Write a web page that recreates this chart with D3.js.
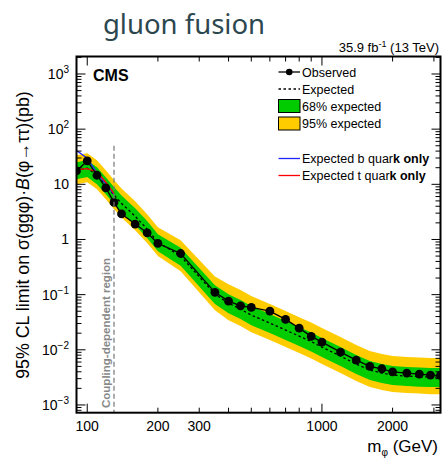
<!DOCTYPE html>
<html><head><meta charset="utf-8">
<script src="https://cdn.jsdelivr.net/npm/d3@7"></script>
<style>
html,body{margin:0;padding:0;background:#fff;}
svg text{font-family:"Liberation Sans",Arial,Helvetica,sans-serif;}
</style></head>
<body>
<svg id="chart" width="442" height="460"></svg>
<script>
// ---- data ----
const masses   = [90,100,110,120,130,140,160,180,200,250,350,400,450,500,600,700,800,900,1000,1200,1400,1600,1800,2000,2300,2600,2900,3200];
const observed = [17.5,26.5,14.6,8.6,4.7,2.9,1.9,1.32,0.85,0.557,0.11,0.0762,0.0627,0.0586,0.0502,0.0356,0.0247,0.0175,0.0138,0.00908,0.0065,0.0050,0.00453,0.00399,0.00378,0.00363,0.00348,0.00344];
const expected = [18.0,19.6,14.6,9.6,6.4,4.5,2.64,1.54,0.89,0.50,0.102,0.070,0.0546,0.0425,0.0305,0.0228,0.0177,0.0141,0.0112,0.00769,0.00551,0.00429,0.00378,0.00348,0.00334,0.00327,0.00320,0.00320];
const plus2    = [33.7,36.7,27.3,18.0,12.0,8.4,4.94,2.88,1.66,0.97,0.214,0.155,0.121,0.094,0.0674,0.0504,0.0391,0.0312,0.0248,0.0170,0.01218,0.00948,0.00835,0.00769,0.00738,0.00723,0.00707,0.00707];
const plus1    = [25.2,27.4,20.4,13.4,8.96,6.3,3.70,2.16,1.25,0.71,0.148,0.102,0.0797,0.062,0.0445,0.0333,0.0258,0.0206,0.01635,0.01123,0.00804,0.00626,0.00552,0.00508,0.00488,0.00477,0.00467,0.00467];
const minus1   = [12.4,13.5,10.0,6.6,4.4,3.09,1.81,1.06,0.61,0.335,0.0678,0.046,0.036,0.028,0.0201,0.0150,0.01166,0.00929,0.00738,0.00507,0.00363,0.00283,0.00249,0.00229,0.0022,0.00215,0.00211,0.00211];
const minus2   = [10.0,10.9,8.1,5.35,3.56,2.5,1.47,0.86,0.50,0.265,0.052,0.0344,0.0269,0.0209,0.0150,0.0112,0.00871,0.00694,0.00551,0.00378,0.00271,0.00211,0.00186,0.00171,0.00164,0.00161,0.00157,0.00157];
const lowMasses = [90,100,110,120,130];
const expBOnly  = [41,29.7,15.9,10.1,6.6];
const expTOnly  = [18.5,19.3,16.8,10.9,6.8];
const yDecades  = [-3,-2,-1,0,1,2,3];
const xLabels   = [100,200,300,1000,2000];
const legendLabels = ["Observed","Expected","68% expected","95% expected","Expected b quark only","Expected t quark only"];

// ---- layout ----
const L=76.5, R=440.5, T=56.5, B=412.7;
const svg=d3.select("#chart");
const x=d3.scaleLog().domain([90,3200]).range([L,R]);
const y=d3.scaleLog().domain([7.24e-4,2075]).range([B,T]);

const GREEN="#00cc00", YELLOW="#ffcc00";

// title
svg.append("text").attr("x",184).attr("y",34).attr("text-anchor","middle")
  .style("font-family","'Noto Sans','Open Sans',sans-serif").style("font-size","27.5px").attr("fill","#2d474f")
  .text("gluon fusion");
// lumi
const lumi=svg.append("text").attr("x",439).attr("y",52).attr("text-anchor","end").style("font-size","13px");
lumi.append("tspan").text("35.9 fb");
lumi.append("tspan").attr("dy",-5).style("font-size","9px").text("-1");
lumi.append("tspan").attr("dy",5).text(" (13 TeV)");

const g=svg.append("g");
const idx=d3.range(masses.length);
svg.append("clipPath").attr("id","clip").append("rect").attr("x",L).attr("y",T).attr("width",R-L).attr("height",B-T);
const plot=g.append("g").attr("clip-path","url(#clip)");

const area=(lo,hi)=>d3.area().x(i=>x(masses[i])).y0(i=>y(lo[i])).y1(i=>y(hi[i]));
plot.append("path").datum(idx).attr("d",area(minus2,plus2)).attr("fill",YELLOW);
plot.append("path").datum(idx).attr("d",area(minus1,plus1)).attr("fill",GREEN);

const line=(arr,ms)=>d3.line().x(i=>x(ms[i])).y(i=>y(arr[i]));
plot.append("path").datum(idx).attr("d",line(expected,masses)).attr("fill","none")
  .attr("stroke","#000").attr("stroke-width",1.3).attr("stroke-dasharray","2.5,2.5");
const lidx=d3.range(lowMasses.length);
plot.append("path").datum(lidx).attr("d",line(expBOnly,lowMasses)).attr("fill","none").attr("stroke","#2222ff").attr("stroke-width",1.3);
plot.append("path").datum(lidx).attr("d",line(expTOnly,lowMasses)).attr("fill","none").attr("stroke","#ff0000").attr("stroke-width",1.3);
plot.append("path").datum(idx).attr("d",line(observed,masses)).attr("fill","none").attr("stroke","#000").attr("stroke-width",1.3);
plot.selectAll("circle.obs").data(idx).enter().append("circle").attr("class","obs")
  .attr("cx",i=>x(masses[i])).attr("cy",i=>y(observed[i])).attr("r",4.4).attr("fill","#000");

// coupling-dependent line
g.append("line").attr("x1",x(130)).attr("x2",x(130)).attr("y1",y(50)).attr("y2",B)
  .attr("stroke","#777").attr("stroke-width",1.2).attr("stroke-dasharray","5,3");
g.append("text").attr("transform",`translate(${x(130)-4},408) rotate(-90)`)
  .style("font-size","11.5px").style("font-weight","bold").attr("fill","#888").text("Coupling-dependent region");

// frame
g.append("rect").attr("x",L).attr("y",T).attr("width",R-L).attr("height",B-T).attr("fill","none").attr("stroke","#000").attr("stroke-width",2);

// y ticks
const ticks=g.append("g").attr("stroke","#000").attr("stroke-width",1);
for(let e=-4;e<=3;e++){
  for(let k=1;k<10;k++){
    const v=k*Math.pow(10,e);
    const yy=y(v);
    if(yy<T||yy>B) continue;
    const len=k===1?9:5;
    ticks.append("line").attr("x1",L).attr("x2",L+len).attr("y1",yy).attr("y2",yy);
    ticks.append("line").attr("x1",R-len).attr("x2",R).attr("y1",yy).attr("y2",yy);
  }
}
// x ticks
const xt=[90,100,200,300,400,500,600,700,800,900,1000,2000,3000];
xt.forEach(v=>{
  const xx=x(v); const len=(v===100||v===1000)?9:5;
  ticks.append("line").attr("x1",xx).attr("x2",xx).attr("y1",B).attr("y2",B-len);
  ticks.append("line").attr("x1",xx).attr("x2",xx).attr("y1",T).attr("y2",T+len);
});
// y labels
yDecades.forEach(e=>{
  const t=g.append("text").attr("x",69).attr("y",y(Math.pow(10,e))+5).attr("text-anchor","end").style("font-size","14px");
  if(e===0) t.text("1");
  else if(e===1) t.text("10");
  else { t.append("tspan").text("10"); t.append("tspan").attr("dy",-6).style("font-size","10px").text(e<0?"\u2212"+(-e):String(e)); }
});
// x labels
xLabels.forEach(v=>{
  g.append("text").attr("x",x(v)).attr("y",431).attr("text-anchor","middle").style("font-size","14px").text(v);
});
// axis titles
const xl=g.append("text").attr("x",438).attr("y",452).attr("text-anchor","end").style("font-size","17px");
xl.append("tspan").text("m");
xl.append("tspan").attr("dy",4).style("font-size","10px").text("\u03c6");
xl.append("tspan").attr("dy",-4).text(" (GeV)");

const yl=g.append("text").attr("transform","translate(29,235) rotate(-90)").attr("text-anchor","middle").style("font-size","17.8px");
yl.append("tspan").text("95% CL limit on \u03c3(gg\u03c6)\u00b7");
yl.append("tspan").style("font-style","italic").text("B");
yl.append("tspan").text("(\u03c6\u2192\u03c4\u03c4)(pb)");

// CMS
g.append("text").attr("x",93).attr("y",81).style("font-size","16px").style("font-weight","bold").text("CMS");

// legend
const lg=g.append("g");
const lx0=278.5, lx1=300, tx=302;
const rows=[72,89,106,123.5,158.5,175.5];
lg.append("line").attr("x1",lx0).attr("x2",lx1).attr("y1",rows[0]).attr("y2",rows[0]).attr("stroke","#000").attr("stroke-width",1.3);
lg.append("circle").attr("cx",(lx0+lx1)/2).attr("cy",rows[0]).attr("r",3.3).attr("fill","#000");
lg.append("line").attr("x1",lx0).attr("x2",lx1).attr("y1",rows[1]).attr("y2",rows[1]).attr("stroke","#000").attr("stroke-width",1.3).attr("stroke-dasharray","2.5,2.5");
lg.append("rect").attr("x",lx0).attr("y",rows[2]-6.5).attr("width",lx1-lx0).attr("height",13).attr("fill",GREEN).attr("stroke","#000").attr("stroke-width",1);
lg.append("rect").attr("x",lx0).attr("y",rows[3]-6.5).attr("width",lx1-lx0).attr("height",13).attr("fill",YELLOW).attr("stroke","#000").attr("stroke-width",1);
lg.append("line").attr("x1",lx0).attr("x2",lx1).attr("y1",rows[4]).attr("y2",rows[4]).attr("stroke","#2222ff").attr("stroke-width",1.3);
lg.append("line").attr("x1",lx0).attr("x2",lx1).attr("y1",rows[5]).attr("y2",rows[5]).attr("stroke","#ff0000").attr("stroke-width",1.3);
legendLabels.forEach((s,i)=>{
  const t=lg.append("text").attr("x",tx).attr("y",rows[i]+4.5).style("font-size","12.5px");
  if(i>=4){
    t.append("tspan").text(s.slice(0,s.length-6));
    t.append("tspan").style("font-weight","bold").text(s.slice(s.length-6));
  } else t.text(s);
});
</script>
</body></html>
